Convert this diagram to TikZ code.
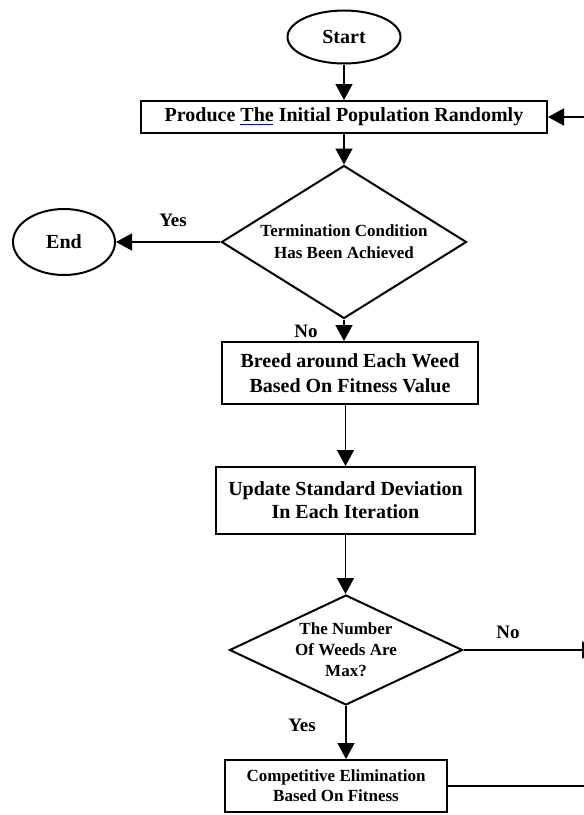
\documentclass[tikz,border=0pt]{standalone}
\usepackage{fontspec}
\setmainfont{Liberation Serif}
\usetikzlibrary{shapes.geometric,arrows.meta}

\begin{document}
\begin{tikzpicture}[x=1pt, y=-1pt,
    box/.style={draw, rectangle, line width=2pt, align=center, inner sep=0pt, font=\bfseries\fontsize{20}{25}\selectfont},
    smallbox/.style={box, font=\bfseries\fontsize{17}{20}\selectfont},
    decision/.style={draw, diamond, line width=2pt, align=center, inner sep=0pt, font=\bfseries\fontsize{17}{22}\selectfont},
    terminal/.style={draw, ellipse, line width=2pt, inner sep=0pt, font=\bfseries\fontsize{20}{24}\selectfont},
    lbl/.style={inner sep=0pt, font=\bfseries\fontsize{19}{22}\selectfont},
    flow/.style={-{Triangle[length=16pt, width=17pt]}, line width=1.5pt}]
    \useasboundingbox (0,0) rectangle (584,815);

    \node (start) [terminal, minimum width=113pt, minimum height=53pt] at (344,37) {Start};
    \node (produce) [box, minimum width=406pt, minimum height=32pt] at (344,117) {Produce \makebox[0pt][l]{\color{blue}\rule[-3pt]{33pt}{1pt}}The Initial Population Randomly};
    \node (cond) [decision, aspect=1.6, minimum width=245pt, minimum height=153pt] at (344,242) {Termination Condition\\Has Been Achieved};
    \node (end) [terminal, minimum width=102pt, minimum height=66pt] at (64,242) {End};
    \node (breed) [box, minimum width=256pt, minimum height=62pt] at (350,373) {Breed around Each Weed\\Based On Fitness Value};
    \node (update) [box, minimum width=259pt, minimum height=67pt, font=\bfseries\fontsize{20}{23}\selectfont] at (345.5,500.5) {Update Standard Deviation\\In Each Iteration};
    \node (maxweeds) [decision, aspect=2.1, minimum width=233pt, minimum height=110pt, font=\bfseries\fontsize{17}{21}\selectfont] at (346,650) {The Number\\Of Weeds Are\\Max?};
    \node (compete) [smallbox, minimum width=222pt, minimum height=52pt] at (336,786) {Competitive Elimination\\Based On Fitness};

    % loose ends at the right border
    \coordinate (backin) at (584,117);
    \coordinate (noout) at (598,650);
    \coordinate (backout) at (584,786);

    \draw[flow] (start) -- (produce);
    \draw[flow] (produce) -- (cond);
    \draw[flow] (cond) -- (end);
    \draw[flow] (cond.south) -- (cond.south |- breed.north);
    \draw[flow] (update.north |- breed.south) -- (update.north);
    \draw[flow] (update.south) -- (update.south |- maxweeds.north);
    \draw[flow] (maxweeds.south) -- (maxweeds.south |- compete.north);
    \draw[flow] (maxweeds.east) -- (noout);
    \draw[flow] (backin) -- (produce.east);
    \draw[line width=1.5pt] (compete.east) -- (backout);

    \node[lbl] (yes1) at (173,220) {Yes};
    \node[lbl] (no1) at (306,331) {No};
    \node[lbl] (no2) at (508,632) {No};
    \node[lbl] (yes2) at (302,725) {Yes};
\end{tikzpicture}
\end{document}
